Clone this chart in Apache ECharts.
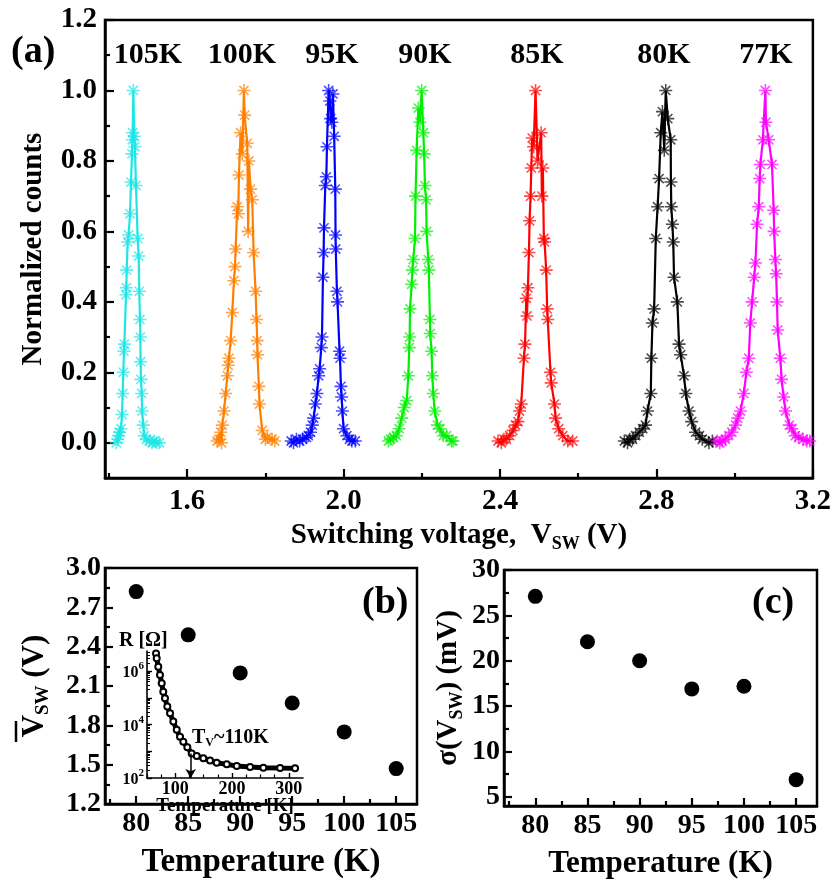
<!DOCTYPE html>
<html>
<head>
<meta charset="utf-8">
<title>Switching voltage vs temperature</title>
<script src="https://cdn.jsdelivr.net/npm/echarts@6/dist/echarts.min.js"></script>
<style>
  html, body { margin: 0; padding: 0; background: #fff; }
  #chart { width: 834px; height: 880px; }
</style>
</head>
<body>
<div id="chart"></div>
<script>
const SERIF = '"Liberation Serif", "Times New Roman", serif';

// ---- (a) normalized switching-voltage histograms, [V, counts]
const tempLabels = ['105K', '100K', '95K', '90K', '85K', '80K', '77K'];
const peakColors = ['#1ee6e6', '#ff7f00', '#0000ff', '#00f000', '#ff0000', '#000000', '#ff00ff'];

const hist105 = [[1.419,0.0],[1.423,0.01],[1.425,0.02],[1.427,0.03],[1.431,0.04],[1.4335,0.08],[1.4352,0.14],
  [1.4369,0.20],[1.4385,0.26],[1.4395,0.28],[1.4437,0.42],[1.4445,0.44],[1.4454,0.49],[1.448,0.57],[1.4505,0.59],
  [1.454,0.65],[1.4565,0.74],[1.459,0.82],[1.460,0.86],[1.4607,0.88],[1.4624,1.0],[1.465,0.87],[1.4665,0.84],
  [1.4692,0.73],[1.4735,0.58],[1.476,0.53],[1.4777,0.43],[1.4794,0.35],[1.4803,0.30],[1.481,0.23],[1.482,0.18],
  [1.4837,0.14],[1.485,0.09],[1.4879,0.05],[1.4904,0.02],[1.496,0.01],[1.503,0.005],[1.510,0.0],[1.516,0.005],
  [1.522,0.0],[1.529,0.0]];
const hist100 = [[1.6765,0.005],[1.6815,0.01],[1.6858,0.03],[1.688,0.0],[1.690,0.05],[1.6943,0.09],[1.6985,0.14],
  [1.7028,0.19],[1.705,0.22],[1.707,0.24],[1.7113,0.29],[1.7155,0.37],[1.7197,0.46],[1.7223,0.50],[1.724,0.55],
  [1.7282,0.67],[1.7308,0.65],[1.7325,0.76],[1.7367,0.88],[1.741,0.82],[1.7452,1.0],[1.747,0.93],[1.7537,0.85],
  [1.756,0.60],[1.758,0.80],[1.7622,0.72],[1.7665,0.69],[1.770,0.54],[1.775,0.43],[1.7775,0.35],[1.7792,0.29],
  [1.780,0.25],[1.7834,0.16],[1.7851,0.11],[1.7919,0.035],[1.800,0.01],[1.8047,0.015],[1.8174,0.01],[1.824,0.005]];
const hist95 = [[1.866,0.005],[1.872,0.0],[1.8795,0.01],[1.8879,0.005],[1.895,0.01],[1.9053,0.015],[1.910,0.02],
  [1.9155,0.03],[1.920,0.05],[1.9235,0.07],[1.9278,0.11],[1.932,0.14],[1.9363,0.19],[1.9388,0.21],[1.943,0.27],
  [1.9448,0.30],[1.9473,0.47],[1.949,0.54],[1.950,0.61],[1.9533,0.73],[1.956,0.755],[1.9575,0.84],[1.9618,1.0],
  [1.965,0.97],[1.967,0.92],[1.970,0.91],[1.9728,0.99],[1.976,0.87],[1.9788,0.72],[1.9795,0.59],[1.980,0.55],
  [1.983,0.43],[1.9845,0.40],[1.9898,0.26],[1.991,0.24],[1.9932,0.16],[1.995,0.13],[1.997,0.09],[2.000,0.04],
  [2.0085,0.02],[2.015,0.01],[2.0212,0.005],[2.030,0.005]];
const hist90 = [[2.1147,0.005],[2.120,0.01],[2.1274,0.015],[2.135,0.02],[2.142,0.04],[2.1487,0.07],[2.155,0.10],
  [2.1614,0.12],[2.1656,0.19],[2.168,0.27],[2.169,0.30],[2.1699,0.38],[2.1741,0.45],[2.176,0.49],[2.1783,0.52],
  [2.1826,0.58],[2.184,0.70],[2.1868,0.83],[2.1911,0.95],[2.1953,0.91],[2.1996,1.0],[2.2039,0.88],[2.206,0.82],
  [2.2081,0.73],[2.211,0.69],[2.2123,0.60],[2.2166,0.52],[2.218,0.49],[2.2208,0.35],[2.2215,0.31],[2.225,0.26],
  [2.227,0.19],[2.2293,0.14],[2.233,0.09],[2.240,0.05],[2.2463,0.04],[2.255,0.02],[2.2633,0.02],[2.276,0.005],
  [2.280,0.005]];
const hist85 = [[2.395,0.005],[2.4033,0.0],[2.410,0.01],[2.4161,0.01],[2.425,0.02],[2.4331,0.035],[2.440,0.05],
  [2.4458,0.06],[2.450,0.09],[2.4543,0.11],[2.4612,0.24],[2.464,0.28],[2.4671,0.41],[2.469,0.36],[2.4713,0.44],
  [2.474,0.54],[2.4756,0.63],[2.4782,0.70],[2.480,0.78],[2.4824,0.865],[2.486,0.84],[2.4909,1.0],[2.496,0.80],
  [2.5053,0.88],[2.507,0.70],[2.5096,0.78],[2.5121,0.58],[2.514,0.57],[2.5181,0.49],[2.5206,0.38],[2.522,0.35],
  [2.5291,0.20],[2.531,0.17],[2.5393,0.11],[2.542,0.07],[2.550,0.04],[2.5605,0.02],[2.5732,0.005],[2.586,0.005]];
const hist80 = [[2.718,0.005],[2.7261,0.0],[2.732,0.01],[2.7389,0.01],[2.747,0.02],[2.7559,0.03],[2.765,0.04],
  [2.772,0.05],[2.7771,0.09],[2.7856,0.14],[2.787,0.24],[2.7898,0.34],[2.7941,0.38],[2.7983,0.58],[2.803,0.67],
  [2.8068,0.75],[2.811,0.88],[2.8153,0.94],[2.820,0.83],[2.8238,1.0],[2.829,0.92],[2.8365,0.86],[2.837,0.74],
  [2.838,0.67],[2.8408,0.62],[2.843,0.57],[2.845,0.47],[2.8535,0.40],[2.8578,0.28],[2.862,0.25],[2.8705,0.19],
  [2.875,0.14],[2.8833,0.09],[2.890,0.06],[2.9002,0.03],[2.910,0.02],[2.9172,0.01],[2.9342,0.0],[2.943,0.005]];
const hist77 = [[2.955,0.005],[2.962,0.0],[2.9682,0.005],[2.976,0.01],[2.9851,0.02],[2.993,0.03],[3.0021,0.05],
  [3.008,0.07],[3.0149,0.09],[3.0234,0.14],[3.030,0.20],[3.0361,0.24],[3.040,0.34],[3.0446,0.40],[3.050,0.47],
  [3.0531,0.51],[3.0573,0.62],[3.0616,0.67],[3.064,0.75],[3.0658,0.79],[3.072,0.86],[3.0786,1.0],[3.080,0.91],
  [3.0871,0.86],[3.0955,0.79],[3.0998,0.66],[3.101,0.60],[3.104,0.52],[3.106,0.48],[3.1083,0.40],[3.110,0.32],
  [3.1168,0.24],[3.120,0.18],[3.1253,0.13],[3.130,0.09],[3.140,0.05],[3.1465,0.04],[3.155,0.02],[3.1635,0.015],
  [3.175,0.01],[3.1847,0.005],[3.192,0.005]];
const histograms = [hist105, hist100, hist95, hist90, hist85, hist80, hist77];

const xTicksA = [1.6, 2.0, 2.4, 2.8, 3.2];
const xMinorA = [1.4, 1.8, 2.2, 2.6, 3.0];
const yTicksA = [0, 0.2, 0.4, 0.6, 0.8, 1.0, 1.2];
const yMinorA = [0.1, 0.3, 0.5, 0.7, 0.9, 1.1];

// ---- (b) and (c): mean switching voltage and its spread
const tempK = [80, 85, 90, 95, 100, 105];
const meanVsw = [2.82, 2.49, 2.20, 1.97, 1.75, 1.47];
const sigmaVsw = [27.1, 22.1, 20.0, 16.9, 17.2, 6.9];

const xTicksT = [80, 85, 90, 95, 100, 105];
const xMinorT = [77.5, 82.5, 87.5, 92.5, 97.5, 102.5];
const yTicksB = [1.2, 1.5, 1.8, 2.1, 2.4, 2.7, 3.0];
const yMinorB = [1.35, 1.65, 1.95, 2.25, 2.55, 2.85];
const yTicksC = [5, 10, 15, 20, 25, 30];
const yMinorC = [7.5, 12.5, 17.5, 22.5, 27.5];

// ---- inset: resistance vs temperature (log10 R)
const insetT = [65.9, 67.1, 69.9, 72.9, 75.9, 78.7, 81.7, 85.8, 90.6, 96.4, 102.4, 108.2, 114.0, 121.1,
  128.8, 137.7, 149.3, 161.1, 172.9, 190.6, 208.2, 231.7, 255.1, 284.6, 311.0];
const insetLogR = [6.66, 6.48, 6.16, 5.85, 5.54, 5.23, 4.98, 4.67, 4.42, 4.11, 3.80, 3.54, 3.36, 3.15,
  2.92, 2.82, 2.74, 2.65, 2.57, 2.51, 2.45, 2.41, 2.385, 2.37, 2.36];
const insetXLabels = [100, 200, 300];
const insetXTicks = [50, 75, 125, 150, 175, 225, 250, 275];
const insetYLabels = [2, 4, 6];
const insetYTicks = [2, 3, 4, 5, 6];
const insetYMinor = [];
for (let n = 2; n <= 6; n++) {
  for (let k = 2; k <= 9; k++) {
    const v = n + Math.log10(k);
    if (v < 6.75) insetYMinor.push(v);
  }
}
const arrowT = 127;

const ASTERISK = 'path://M-0.12,-1L0.12,-1L0.12,1L-0.12,1Z M-1,-0.12L1,-0.12L1,0.12L-1,0.12Z '
  + 'M-0.62,-0.79L0.79,0.62L0.62,0.79L-0.79,-0.62Z M-0.79,0.62L0.62,-0.79L0.79,-0.62L-0.62,0.79Z';

const bold = (size) => ({ fontFamily: SERIF, fontWeight: 'bold', fontSize: size, color: '#000' });

const chart = echarts.init(document.getElementById('chart'));

// builds a major axis (line, long ticks, labels) or a minor one (short ticks only)
function axis(dim, gridIndex, min, max, values, opts) {
  const o = opts || {};
  const major = !o.minor;
  return Object.assign({
    type: 'value',
    gridIndex,
    min,
    max,
    position: dim === 'x' ? 'bottom' : 'left',
    splitLine: { show: false },
    axisLine: { show: major, onZero: false, lineStyle: { color: '#000', width: o.lineWidth || 2.5 } },
    axisTick: {
      show: true,
      inside: true,
      length: o.tickLen || (major ? 9 : 5),
      customValues: values,
      lineStyle: { color: '#000', width: o.tickWidth || 2.2 },
    },
    axisLabel: major ? Object.assign({
      show: true,
      customValues: o.labels || values,
      margin: o.margin || 8,
      formatter: o.fmt,
    }, bold(o.labelSize || 28), o.labelExtra || {}) : { show: false },
  }, o.extra || {});
}

const subRich = (size, subSize) => ({
  t: Object.assign(bold(size), { lineHeight: size + 6, verticalAlign: 'middle' }),
  s: Object.assign(bold(subSize), { lineHeight: subSize, verticalAlign: 'bottom' }),
});

const fmt1 = (v) => v.toFixed(1);
const fmtInt = (v) => String(Math.round(v));

const xAxes = [
  axis('x', 0, 1.39, 3.2, xTicksA, {
    fmt: fmt1, margin: 9, labelSize: 29,
    extra: {
      name: '{t|Switching voltage,  V}{s|SW}{t| (V)}',
      nameLocation: 'middle', nameGap: 36,
      nameTextStyle: { rich: subRich(29, 18) },
    },
  }),
  axis('x', 0, 1.39, 3.2, xMinorA, { minor: true }),
  axis('x', 1, 77, 107, xTicksT, {
    fmt: fmtInt, margin: 6, tickLen: 8,
    extra: {
      name: 'Temperature (K)', nameLocation: 'middle', nameGap: 42,
      nameTextStyle: bold(33),
    },
  }),
  axis('x', 1, 77, 107, xMinorT, { minor: true, tickLen: 5 }),
  axis('x', 2, 50, 325, insetXLabels, {
    fmt: fmtInt, margin: 2, tickLen: 5, lineWidth: 1.6, tickWidth: 1.4, labelSize: 18,
  }),
  axis('x', 2, 50, 325, insetXTicks, { minor: true, tickLen: 3.5, tickWidth: 1.2 }),
  axis('x', 3, 77, 107, xTicksT, {
    fmt: fmtInt, margin: 6, tickLen: 8,
    extra: {
      name: 'Temperature (K)', nameLocation: 'middle', nameGap: 42,
      nameTextStyle: bold(31),
    },
  }),
  axis('x', 3, 77, 107, xMinorT, { minor: true, tickLen: 5 }),
];

const yAxes = [
  axis('y', 0, -0.1, 1.2, yTicksA, {
    fmt: fmt1, margin: 8, labelSize: 29,
    extra: {
      name: 'Normalized counts', nameLocation: 'middle', nameRotate: 90, nameGap: 57,
      nameTextStyle: bold(29),
    },
  }),
  axis('y', 0, -0.1, 1.2, yMinorA, { minor: true }),
  axis('y', 1, 1.2, 3.0, yTicksB, {
    fmt: fmt1, margin: 4, tickLen: 8,
    extra: {
      name: '{t|V}{s|SW}{t| (V)}', nameLocation: 'middle', nameRotate: 90, nameGap: 52,
      nameTextStyle: { rich: subRich(31, 19) },
    },
  }),
  axis('y', 1, 1.2, 3.0, yMinorB, { minor: true }),
  axis('y', 2, 2, 6.75, insetYTicks, {
    labels: insetYLabels, margin: 3, tickLen: 5, lineWidth: 1.6, tickWidth: 1.4,
    fmt: (v) => '{b|10}{p|' + Math.round(v) + '}',
    labelExtra: {
      rich: {
        b: Object.assign(bold(16), { lineHeight: 20, verticalAlign: 'bottom' }),
        p: Object.assign(bold(11), { lineHeight: 11, verticalAlign: 'top' }),
      },
    },
  }),
  axis('y', 2, 2, 6.75, insetYMinor, { minor: true, tickLen: 3, tickWidth: 1 }),
  axis('y', 3, 4, 30, yTicksC, {
    fmt: fmtInt, margin: 4, tickLen: 8,
    extra: {
      name: '{t|σ(V}{s|SW}{t|) (mV)}', nameLocation: 'middle', nameRotate: 90, nameGap: 38,
      nameTextStyle: { rich: subRich(29, 18) },
    },
  }),
  axis('y', 3, 4, 30, yMinorC, { minor: true }),
];

const histSeries = histograms.map((data, i) => ({
  name: tempLabels[i],
  type: 'line',
  xAxisIndex: 0,
  yAxisIndex: 0,
  data,
  symbol: ASTERISK,
  symbolSize: 13,
  showAllSymbol: true,
  lineStyle: { color: peakColors[i], width: 2.2 },
  itemStyle: { color: peakColors[i], opacity: 0.7 },
  z: 3,
}));

const option = {
  animation: false,
  backgroundColor: '#fff',
  grid: [
    { left: 105, top: 20, width: 711, height: 458, show: true, borderColor: '#000', borderWidth: 2.5, backgroundColor: 'transparent' },
    { left: 105, top: 568, width: 312, height: 255, show: true, borderColor: '#000', borderWidth: 2.5, backgroundColor: 'transparent' },
    { left: 147, top: 651, width: 156, height: 127, show: false },
    { left: 504, top: 570, width: 313, height: 252, show: true, borderColor: '#000', borderWidth: 2.5, backgroundColor: 'transparent' },
  ],
  xAxis: xAxes,
  yAxis: yAxes,
  series: histSeries.concat([
    {
      type: 'scatter',
      xAxisIndex: 2,
      yAxisIndex: 2,
      data: tempK.map((t, i) => [t, meanVsw[i]]),
      symbol: 'circle',
      symbolSize: 15,
      itemStyle: { color: '#000', opacity: 1 },
    },
    {
      type: 'line',
      xAxisIndex: 4,
      yAxisIndex: 4,
      data: insetT.map((t, i) => [t, insetLogR[i]]),
      symbol: 'emptyCircle',
      symbolSize: 6,
      showAllSymbol: true,
      lineStyle: { color: '#000', width: 5 },
      itemStyle: { color: '#000', borderColor: '#000', borderWidth: 1 },
      markLine: {
        silent: true,
        symbol: ['none', 'arrow'],
        symbolSize: [8, 9],
        label: { show: false },
        lineStyle: { color: '#000', width: 1.5, type: 'solid' },
        data: [[{ coord: [arrowT, 2.92] }, { coord: [arrowT, 2.0] }]],
      },
    },
    {
      type: 'scatter',
      xAxisIndex: 6,
      yAxisIndex: 6,
      data: tempK.map((t, i) => [t, sigmaVsw[i]]),
      symbol: 'circle',
      symbolSize: 15,
      itemStyle: { color: '#000', opacity: 1 },
    },
  ]),
  graphic: [
    { type: 'text', left: 11, top: 33, style: Object.assign({ text: '(a)' }, bold(38)) },
    { type: 'text', left: 362, top: 584, style: Object.assign({ text: '(b)' }, bold(38)) },
    { type: 'text', left: 752, top: 584, style: Object.assign({ text: '(c)' }, bold(38)) },
    { type: 'text', left: 119, top: 631, style: Object.assign({ text: 'R [Ω]' }, bold(20)) },
    {
      type: 'text', x: 225, y: 806, z: 10,
      style: Object.assign({ text: 'Temperature [K]', align: 'center', verticalAlign: 'middle' }, bold(19)),
    },
    {
      type: 'text', left: 192, top: 728,
      style: {
        text: '{t|T}{s|V}{t|~110K}',
        rich: {
          t: Object.assign(bold(20), { lineHeight: 22, verticalAlign: 'middle' }),
          s: Object.assign(bold(12), { lineHeight: 12, verticalAlign: 'bottom' }),
        },
      },
    },
    // overbar of the mean-voltage symbol
    { type: 'line', shape: { x1: 16, y1: 721, x2: 16, y2: 742 }, style: { stroke: '#000', lineWidth: 2.5 } },
  ].concat(tempLabels.map((label, i) => ({
    type: 'text',
    x: [148, 242, 332, 425, 537, 664, 766][i],
    y: 55,
    style: Object.assign({ text: label, align: 'center', verticalAlign: 'middle' }, bold(30)),
  }))),
};

chart.setOption(option);
</script>
</body>
</html>
